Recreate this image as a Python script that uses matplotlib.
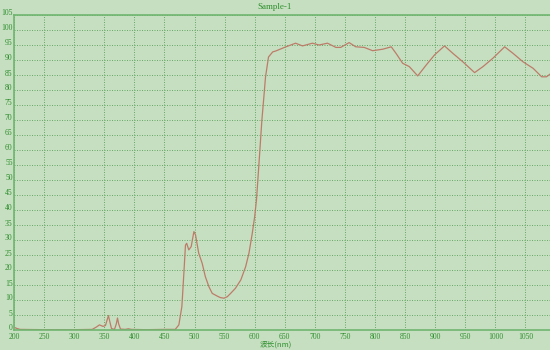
import matplotlib
matplotlib.use("Agg")
import matplotlib.pyplot as plt
import matplotlib.transforms as mtransforms
import numpy as np

wavelength = [200, 205, 210, 250, 300, 330, 337, 342, 348, 352, 355, 357, 359, 362, 367, 370, 372, 374, 377, 385, 390, 395, 420, 450, 468,
              474, 479, 482, 485, 487, 490.5, 494.5, 499, 501.7, 507, 512.8, 518, 524, 529.5, 537.8, 543, 549, 554.5, 560, 568, 577,
              585, 590.5, 596, 600, 603, 608, 612, 615, 618, 623, 630, 635, 652, 668, 679.5, 696, 707, 721, 735, 743, 757, 768, 782,
              796, 813, 827, 835, 846, 857, 871, 885, 899, 915.5, 929.5, 946, 965.5, 979.5, 996, 1015.5, 1029.5, 1046, 1063, 1077,
              1085, 1093]
transmittance = [0.9, 0.5, 0.2, 0.1, 0.1, 0.2, 1.0, 1.7, 1.2, 1.5, 3.5, 4.8, 3.0, 0.5, 0.2, 2.0, 4.0, 2.0, 0.3, 0.2, 0.4, 0.2, 0.1, 0.2, 0.2,
                 1.7, 7.8, 17.8, 28.3, 28.9, 26.7, 27.8, 32.8, 31.7, 25.6, 22.2, 17.8, 14.4, 12.2, 11.3, 10.8, 10.6, 11.1, 12.2, 13.9, 16.7,
                 21.1, 25.6, 32.2, 37.8, 43.3, 58.0, 70.0, 77.0, 84.3, 91.0, 92.7, 93.0, 94.4, 95.6, 94.7, 95.6, 95.0, 95.6, 94.2, 94.2, 95.8,
                 94.4, 94.2, 93.1, 93.6, 94.4, 92.2, 88.9, 87.8, 84.7, 88.3, 91.7, 94.7, 92.2, 89.4, 85.8, 87.8, 90.6, 94.4, 92.2, 89.4, 87.2,
                 84.4, 84.4, 85.6]

x_ticks = [200, 250, 300, 350, 400, 450, 500, 550, 600, 650, 700, 750, 800, 850, 900, 950, 1000, 1050]
y_ticks = list(range(0, 106, 5))
title = "Sample-1"
x_label = "波长(nm)"

bg = "#c6dfc0"
green_txt = "#2f8f2f"
fig = plt.figure(figsize=(5.5, 3.5), dpi=100, facecolor=bg)
ax = fig.add_axes([14/550, 20/350, 1 - 14/550 + 0.01, 315/350])
ax.set_facecolor(bg)
ax.plot(wavelength, transmittance, color="#bd7c6a", lw=0.9)
ax.set_xlim(200, 1100)
ax.set_ylim(0, 105)
ax.set_xticks(x_ticks)
ax.set_yticks(y_ticks)
ax.grid(True, color="#5aa05a", linestyle=(0, (1.2, 1.8)), linewidth=0.6)
for s in ax.spines.values():
    s.set_color("#6fb56f")
    s.set_linewidth(1.2)
ax.tick_params(length=0, labelsize=5.5, colors=green_txt)
ax.tick_params(axis="x", pad=2)
ax.tick_params(axis="y", pad=1)
offset = mtransforms.ScaledTranslation(0, 2.5/100, fig.dpi_scale_trans)
for lab in ax.get_yticklabels():
    lab.set_family("Liberation Serif")
    lab.set_transform(lab.get_transform() + offset)
for lab in ax.get_xticklabels():
    lab.set_family("Liberation Serif")
fig.text(275/550, 1 - 7/350, title, ha="center", va="center", fontsize=6.5, color=green_txt,
         family="Liberation Serif")
fig.text(276/550, 1 - 344.5/350, x_label, ha="center", va="center", fontsize=5.5, color=green_txt,
         family=["Noto Sans CJK SC", "DejaVu Sans"])
fig.savefig("out.png", dpi=100, facecolor=bg)
